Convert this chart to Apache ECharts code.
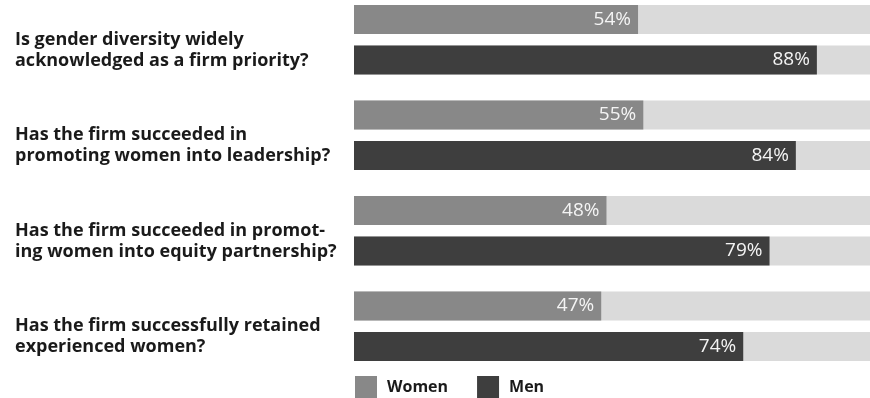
<!DOCTYPE html>
<html>
<head>
<meta charset="utf-8">
<script src="https://cdn.jsdelivr.net/npm/echarts@6/dist/echarts.min.js"></script>
<style>
  html, body { margin: 0; padding: 0; background: #fff; overflow: hidden; }
  /* a bit bigger than the window: the 100% track runs past the right edge and
     the first bar sits close to the top, as in the original */
  #chart { width: 880px; height: 406px; margin-top: -8px; }
</style>
</head>
<body>
<div id="chart"></div>
<script>
// questions asked in the survey (top to bottom)
const questions = [
  'Is gender diversity widely\nacknowledged as a firm priority?',
  'Has the firm succeeded in\npromoting women into leadership?',
  'Has the firm succeeded in promot-\ning women into equity partnership?',
  'Has the firm successfully retained\nexperienced women?'
]
const women = [54, 55, 48, 47]
const men = [88, 84, 79, 74]

const chart = echarts.init(document.getElementById('chart'))

const valueLabel = {
  show: true,
  position: 'insideRight',
  distance: 7,
  color: '#f4f4f4',
  fontFamily: 'Open Sans',
  fontSize: 19,
  formatter: p => p.value + '%'
}

chart.setOption({
  animation: false,
  grid: {
    left: 354,
    right: 0,
    top: 0,
    height: 382
  },
  legend: {
    left: 350,
    top: 379,
    itemWidth: 22,
    itemHeight: 22,
    itemGap: 29,
    icon: 'rect',
    textStyle: {
      fontFamily: 'Open Sans',
      fontWeight: 'bold',
      fontSize: 16,
      color: '#1a1a1a',
      padding: [0, 0, 0, 5]
    },
    data: ['Women', 'Men']
  },
  xAxis: {
    type: 'value',
    min: 0,
    max: 100,
    show: false
  },
  yAxis: {
    type: 'category',
    inverse: true,
    data: questions,
    axisLine: { show: false },
    axisTick: { show: false },
    axisLabel: {
      align: 'left',
      margin: 339,
      fontFamily: 'Open Sans',
      fontWeight: 'bold',
      fontSize: 18,
      lineHeight: 21,
      color: '#1a1a1a',
      // blank first line pushes the question a little below the group centre
      formatter: v => '\n' + v
    }
  },
  series: [
    {
      name: 'Women',
      type: 'bar',
      data: women,
      barWidth: 29,
      barGap: '40%',
      itemStyle: { color: '#888888' },
      showBackground: true,
      backgroundStyle: { color: '#dadada' },
      label: valueLabel
    },
    {
      name: 'Men',
      type: 'bar',
      data: men,
      barWidth: 29,
      barGap: '40%',
      itemStyle: { color: '#3e3e3e' },
      showBackground: true,
      backgroundStyle: { color: '#dadada' },
      label: valueLabel
    }
  ]
})
</script>
</body>
</html>
